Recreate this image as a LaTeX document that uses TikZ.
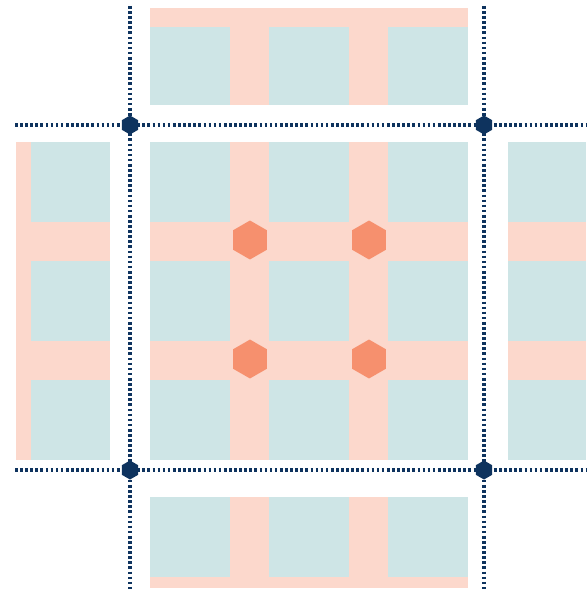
\documentclass[tikz,border=0pt]{standalone}
\usepackage{xcolor}
\usepackage{tikz}
\usetikzlibrary{shapes.geometric}
\definecolor{tileblue}{HTML}{CEE5E6}
\definecolor{tilesalmon}{HTML}{FCD8CC}
\definecolor{hexorange}{HTML}{F6906E}
\definecolor{cutnavy}{HTML}{0E335E}

\begin{document}
\begin{tikzpicture}[x=0.02cm,y=-0.02cm,
 band/.style={fill=tilesalmon},sq/.style={fill=tileblue},
 cut/.style={cutnavy,line width=2pt,dash pattern=on 1.5pt off 1.4pt},
 knot/.style={regular polygon,regular polygon sides=6,rotate=30,fill=cutnavy,inner sep=0pt,minimum size=0.38cm},
 hex/.style={regular polygon,regular polygon sides=6,rotate=30,fill=hexorange,inner sep=0pt,minimum size=0.78cm}]
\path[use as bounding box] (0,0) rectangle (586,591);
% centre tile
\fill[band] (150,142) rectangle (468,460);
\foreach \x in {150,269,388}\foreach \y in {142,261,380}\fill[sq] (\x,\y) rectangle ++(80,80);
% top and bottom neighbours
\fill[band] (150,8) rectangle (468,105);
\fill[band] (150,497) rectangle (468,588);
\foreach \x in {150,269,388}{\fill[sq] (\x,27) rectangle (\x+80,105);\fill[sq] (\x,497) rectangle (\x+80,577);}
% left and right neighbours
\fill[band] (16,142) rectangle (110,460);
\fill[band] (508,142) rectangle (586,460);
\foreach \y in {142,261,380}{\fill[sq] (31,\y) rectangle (110,\y+80);\fill[sq] (508,\y) rectangle (586,\y+80);}
% crossings of the stripes
\node[hex] (h11) at (250,240) {};\node[hex] (h12) at (369,240) {};
\node[hex] (h21) at (250,359) {};\node[hex] (h22) at (369,359) {};
% cut lines
\draw[cut] (130,6)--(130,591);\draw[cut] (484,6)--(484,591);
\draw[cut] (15,125)--(586,125);\draw[cut] (15,470)--(586,470);
\node[knot] (nw) at (130,125) {};\node[knot] (ne) at (484,125) {};
\node[knot] (sw) at (130,470) {};\node[knot] (se) at (484,470) {};
\end{tikzpicture}
\end{document}
